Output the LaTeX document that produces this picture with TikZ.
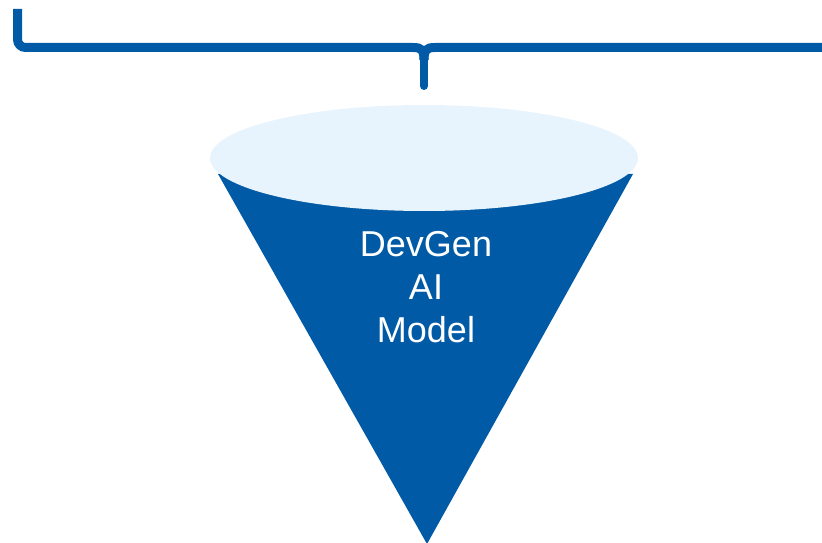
\documentclass[tikz,border=0pt]{standalone}
\usepackage{fontspec}
\setmainfont{Liberation Sans}
\definecolor{coneblue}{RGB}{0,90,165}
\definecolor{conetop}{RGB}{232,244,253}
\begin{document}
\begin{tikzpicture}[x=1bp,y=-1bp,
  bracestroke/.style={draw=coneblue,line width=9bp},
  label/.style={text=white,font=\fontsize{36bp}{43bp}\selectfont,align=center}]
\useasboundingbox (0,0) rectangle (822,543);
\clip (0,0) rectangle (822,543);
% brace over the funnel
\coordinate (bl) at (17.5,9);
\coordinate (bm) at (424,47.5);
\coordinate (bt) at (424,86);
\coordinate (br) at (830,47.5);
\draw[bracestroke,rounded corners=8bp] (bl) |- (413,47.5);
\draw[bracestroke] (413,47.5) .. controls (422,47.5) and (424,50) .. (424,60);
\draw[bracestroke] (br) -- (435,47.5) .. controls (426,47.5) and (424,50) .. (424,60);
\draw[draw=coneblue,line width=8bp,line cap=round] (424,56) -- (bt);
% funnel body
\coordinate (tl) at (218,174);
\coordinate (tr) at (633,174);
\coordinate (tip) at (427,544);
\fill[coneblue] (tl) -- (tr) -- (tip) -- cycle;
\fill[conetop] (424,158) ellipse [x radius=214, y radius=53];
\node[label] (model) at (426,287) {DevGen\\AI\\Model};
\end{tikzpicture}
\end{document}
